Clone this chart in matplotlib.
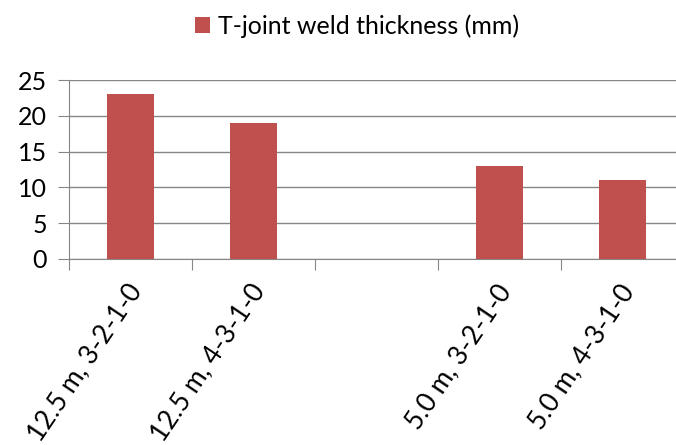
import numpy as np
import matplotlib.pyplot as plt

categories = ["12.5 m, 3-2-1-0", "12.5 m, 4-3-1-0", "", "5.0 m, 3-2-1-0", "5.0 m, 4-3-1-0"]
thickness = [23, 19, 0, 13, 11]
series_name = "T-joint weld thickness (mm)"

plt.rcParams['font.family'] = ['Lato', 'DejaVu Sans']

fig = plt.figure(figsize=(6.76, 4.45), dpi=100)
# axes runs past the right edge, as in the original crop
ax = fig.add_axes([69 / 676, 1 - 259 / 445, 615 / 676, 179 / 445])

x = np.arange(len(categories))
ax.bar(x, thickness, width=0.39, color='#C0504D', label=series_name, zorder=3)

ax.set_xlim(-0.5, len(categories) - 0.5)
ax.set_ylim(0, 25)
ax.set_yticks(np.arange(0, 26, 5))
ax.yaxis.grid(True, color='#868686', linewidth=1, zorder=0)

for s in ['top', 'right']:
    ax.spines[s].set_visible(False)
for s in ['left', 'bottom']:
    ax.spines[s].set_color('#868686')

# category ticks sit between the bars
ax.set_xticks(np.arange(-0.5, len(categories) + 0.5, 1), minor=False)
ax.set_xticklabels([])
ax.set_xticks(x + 0.05, minor=True)
ax.set_xticklabels(categories, minor=True, rotation=56, ha='right', va='center',
                   rotation_mode='anchor', fontsize=19)
ax.tick_params(axis='x', which='major', length=8, color='#868686')
ax.tick_params(axis='x', which='minor', length=0, pad=20)
ax.tick_params(axis='y', length=8, color='#868686', labelsize=18, pad=8)

fig.legend(loc='center', bbox_to_anchor=(357 / 676, 1 - 26 / 445), frameon=False,
           fontsize=18, handlelength=0.6, handleheight=0.6, handletextpad=0.3)

fig.savefig('out.png', dpi=100)
